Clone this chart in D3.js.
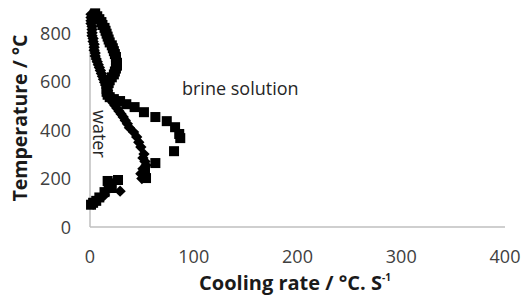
<!DOCTYPE html>
<html>
<head>
<meta charset="utf-8">
<script src="https://cdn.jsdelivr.net/npm/d3@7"></script>
<style>
  body { margin: 0; background: #fff; }
  svg { display: block; font-family: "Open Sans", sans-serif; }
</style>
</head>
<body>
<div id="chart"></div>
<script>
// cooling rate (°C/s) vs temperature (°C)
const waterRate = [1, 1, 1, 1, 2, 2, 2, 2, 3, 3, 4, 4, 4, 5, 5, 6, 7, 8, 9, 10,
  11, 12, 13, 14, 15, 16, 17, 18, 20, 21, 22, 24, 26, 28, 30, 32, 34, 36, 38, 42,
  45, 47, 49, 52, 51, 53, 54, 51, 49, 50, 29, 19, 14, 8, 5, 3];
const waterTemp = [878, 865, 852, 840, 828, 815, 802, 790, 778, 766, 754, 742, 730, 718, 706, 694, 682, 670, 658, 646,
  634, 622, 610, 598, 586, 574, 562, 550, 538, 526, 514, 502, 490, 478, 466, 454, 440, 426, 410, 392,
  372, 350, 330, 301, 285, 270, 255, 240, 220, 200, 148, 161, 132, 115, 100, 95];

const brineRate = [5, 7, 9, 11, 12, 14, 15, 16, 17, 18, 19, 21, 22, 23, 24, 25, 25, 26, 26, 25,
  24, 23, 21, 19, 18, 17, 16, 16, 17, 19, 23, 29, 35, 43, 52, 63, 74, 82, 86, 87,
  81, 63, 53, 54, 27, 17, 18, 21, 14, 9, 6, 3, 1];
const brineTemp = [882, 870, 858, 846, 834, 822, 810, 798, 786, 774, 762, 750, 738, 726, 714, 702, 690, 678, 666, 654,
  642, 630, 618, 606, 594, 582, 570, 558, 546, 536, 528, 520, 507, 495, 474, 454, 437, 412, 384, 367,
  313, 264, 227, 202, 194, 190, 180, 161, 144, 122, 108, 100, 92];

const xTicks = [0, 100, 200, 300, 400];
const yTicks = [0, 200, 400, 600, 800];

const width = 522, height = 300;

const svg = d3.select("#chart").append("svg")
  .attr("width", width)
  .attr("height", height);

const x = d3.scaleLinear().domain([0, 400]).range([90, 505]);
const y = d3.scaleLinear().domain([0, 900]).range([227, 9]);

// axis lines
svg.append("line")
  .attr("x1", x(0)).attr("x2", x(400))
  .attr("y1", y(0)).attr("y2", y(0))
  .attr("stroke", "#bfbfbf").attr("stroke-width", 1.5);
svg.append("line")
  .attr("x1", x(0)).attr("x2", x(0))
  .attr("y1", y(0)).attr("y2", y(900))
  .attr("stroke", "#bfbfbf").attr("stroke-width", 1.5);

// tick labels
svg.selectAll(".xlab").data(xTicks).enter().append("text")
  .attr("class", "xlab")
  .attr("x", (d) => x(d))
  .attr("y", 263)
  .attr("text-anchor", "middle")
  .attr("font-size", 18)
  .attr("fill", "#404040")
  .text((d) => d);

svg.selectAll(".ylab").data(yTicks).enter().append("text")
  .attr("class", "ylab")
  .attr("x", 71)
  .attr("y", (d) => y(d) + 6.5)
  .attr("text-anchor", "end")
  .attr("font-size", 18)
  .attr("fill", "#404040")
  .text((d) => d);

// series
const water = waterRate.map((r, i) => ({ x: r, y: waterTemp[i] }));
const brine = brineRate.map((r, i) => ({ x: r, y: brineTemp[i] }));

svg.selectAll(".brine").data(brine).enter().append("rect")
  .attr("class", "brine")
  .attr("x", (d) => x(d.x) - 5)
  .attr("y", (d) => y(d.y) - 5)
  .attr("width", 10)
  .attr("height", 10)
  .attr("fill", "#000");

svg.selectAll(".water").data(water).enter().append("rect")
  .attr("class", "water")
  .attr("x", -4)
  .attr("y", -4)
  .attr("width", 8)
  .attr("height", 8)
  .attr("transform", (d) => `translate(${x(d.x)},${y(d.y)}) rotate(45)`)
  .attr("fill", "#000");

// annotations
svg.append("text")
  .attr("x", 182)
  .attr("y", 95)
  .attr("font-size", 18)
  .attr("fill", "#262626")
  .text("brine solution");

svg.append("text")
  .attr("transform", "translate(93,110) rotate(90)")
  .attr("font-size", 18)
  .attr("fill", "#262626")
  .text("water");

// axis titles
svg.append("text")
  .attr("transform", `translate(27,${(y(0) + y(900)) / 2}) rotate(-90)`)
  .attr("text-anchor", "middle")
  .attr("font-size", 19.5)
  .attr("font-weight", "bold")
  .attr("fill", "#1a1a1a")
  .text("Temperature / °C");

const xt = svg.append("text")
  .attr("x", 295)
  .attr("y", 290)
  .attr("text-anchor", "middle")
  .attr("font-size", 20)
  .attr("font-weight", "bold")
  .attr("fill", "#1a1a1a");
xt.append("tspan").text("Cooling rate / °C. S");
xt.append("tspan")
  .attr("font-size", 10)
  .attr("dy", -9)
  .text("-1");
</script>
</body>
</html>
